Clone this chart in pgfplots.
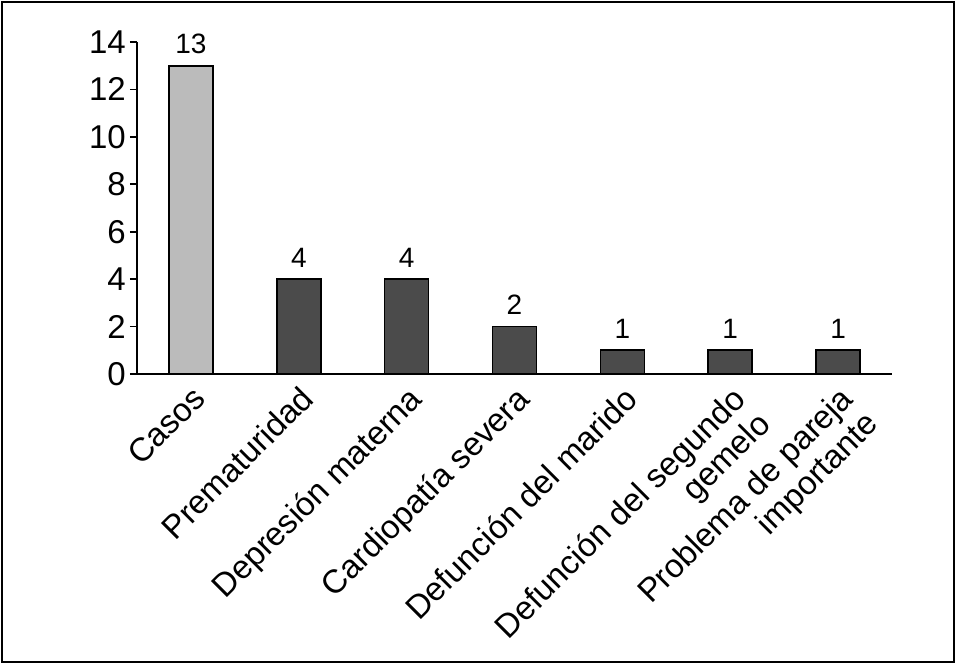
\documentclass[border=0pt]{standalone}
\usepackage{pgfplots}
\pgfplotsset{compat=1.18}
\usepackage{fontspec}
\setmainfont{Liberation Sans}
\definecolor{lightbar}{HTML}{BBBBBB}
\definecolor{darkbar}{HTML}{4B4B4B}
\begin{document}
\begin{tikzpicture}
\path[use as bounding box] (-137pt,-290pt) rectangle (819pt,374pt);
\draw[line width=2pt] (-135pt,-288pt) rectangle (817pt,372pt);
\begin{axis}[
  at={(0pt,0pt)}, anchor=south west,
  scale only axis, width=755pt, height=332pt,
  xmin=-0.5, xmax=6.5, ymin=0, ymax=14,
  axis lines=left, axis line style={-, line width=1.6pt},
  every tick/.style={black, line width=1.6pt},
  tick align=outside,
  /pgf/number format/assume math mode=true,
  major tick length=7pt, minor tick length=9pt,
  ytick={0,2,...,14},
  yticklabel style={font=\fontsize{33}{36}\selectfont, inner sep=4pt},
  xtick={0,...,6},
  xtick style={draw=none},
  minor xtick={-0.5,0.5,...,6.5},
  xticklabels={Casos, Prematuridad, Depresión materna, Cardiopatía severa, Defunción del marido, {Defunción del segundo\\gemelo}, {Problema de pareja\\importante}},
  xticklabel style={font=\fontsize{33}{35}\selectfont, rotate=45, anchor=north east, align=right, inner sep=2pt},
  nodes near coords,
  every node near coord/.append style={font=\fontsize{28}{32}\selectfont, black, yshift=8pt},
  ybar, bar width=44pt,
]
\addplot[fill=lightbar, draw=black, line width=1.6pt, bar shift=0pt] coordinates {(0,13)};
\addplot[fill=darkbar, draw=black, line width=1.6pt, bar shift=0pt] coordinates {(1,4) (2,4) (3,2) (4,1) (5,1) (6,1)};
\end{axis}
\end{tikzpicture}
\end{document}
